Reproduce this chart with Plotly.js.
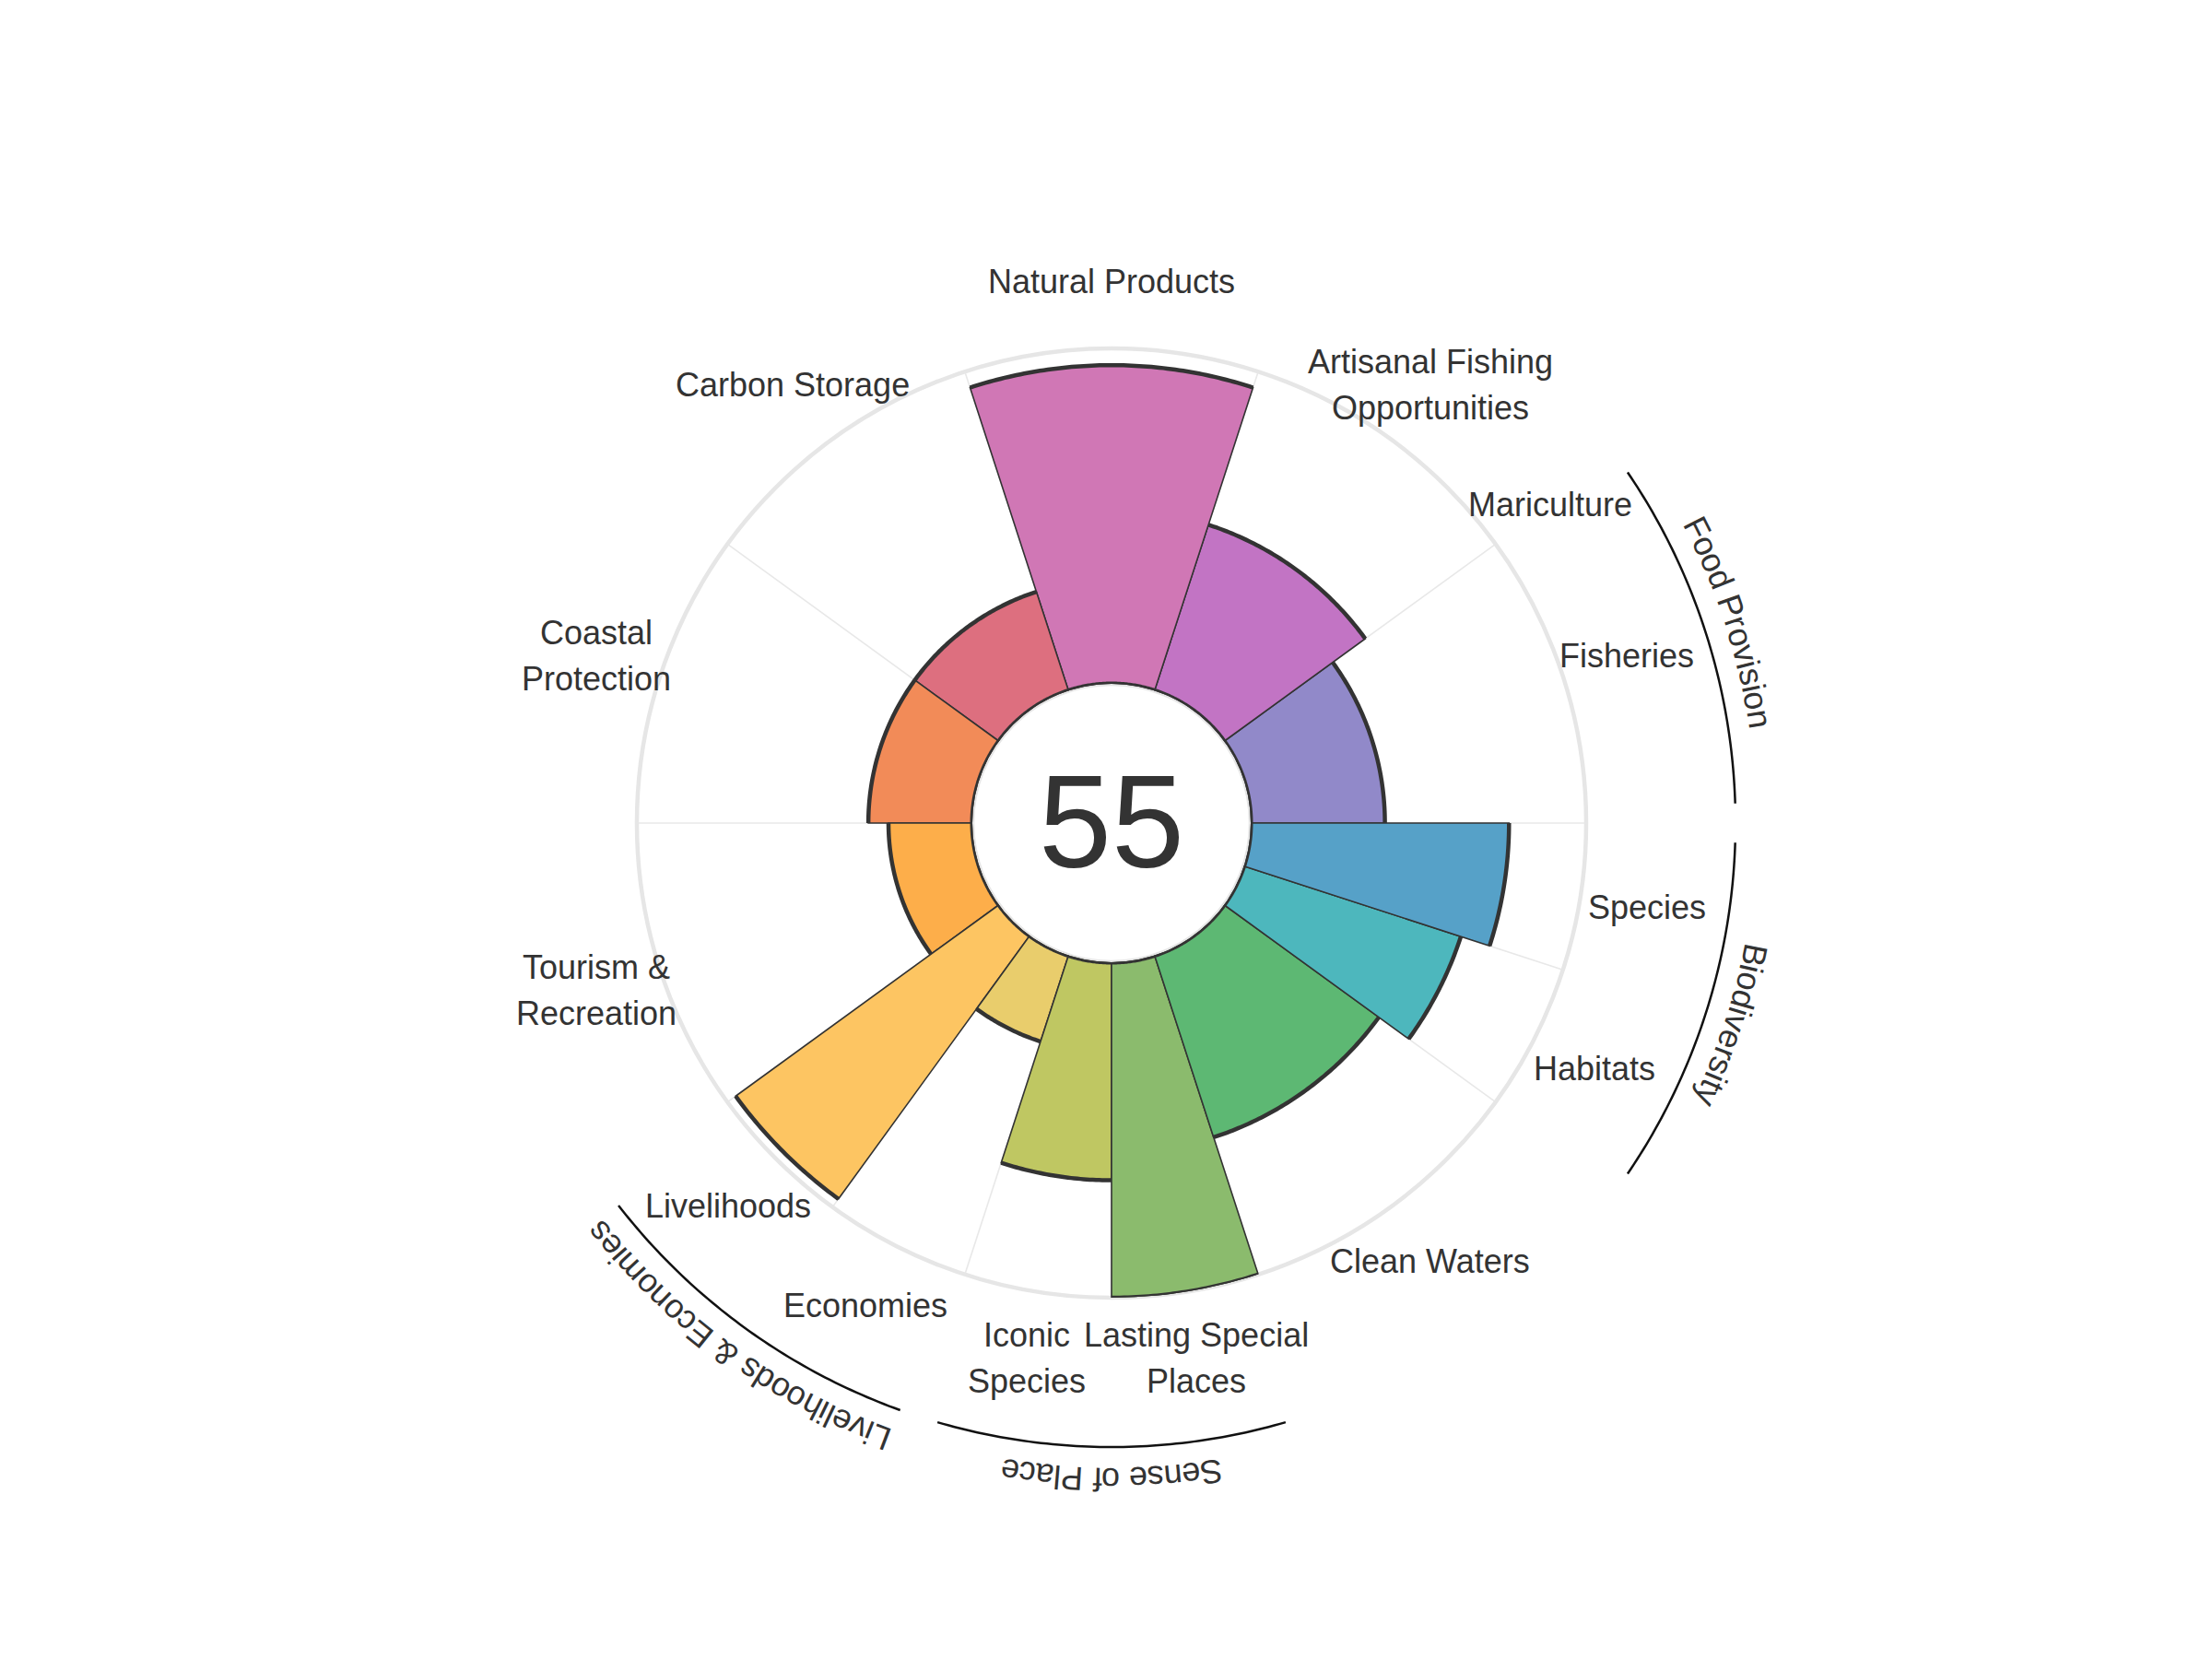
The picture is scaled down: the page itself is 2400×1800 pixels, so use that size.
<!DOCTYPE html>
<html>
<head>
<meta charset="utf-8">
<script src="https://cdn.plot.ly/plotly-3.0.1.min.js"></script>
<style>
html,body{margin:0;padding:0;background:#ffffff;}
#chart{width:2400px;height:1800px;}
</style>
</head>
<body>
<div id="chart"></div>
<script>
// ---------------- DATA ----------------
const goals = ['Fisheries','Mariculture','Artisanal Fishing Opportunities','Natural Products','Carbon Storage','Coastal Protection','Tourism & Recreation','Livelihoods','Economies','Iconic Species','Lasting Special Places','Clean Waters','Habitats','Species'];
const goalLabels = ['Fisheries','Mariculture','Artisanal Fishing<br>Opportunities','Natural Products','Carbon Storage','Coastal<br>Protection','Tourism &amp;<br>Recreation','Livelihoods','Economies','Iconic<br>Species','Lasting Special<br>Places','Clean Waters','Habitats','Species'];
const goalWeights = [36, 0, 36, 36, 36, 36, 36, 18, 18, 18, 18, 36, 18, 18];
const goalScores = [40, null, 52, 95, 31, 31, 25, 97, 27, 65, 100, 57, 68, 77];
const goalColors = ['#9189C9','#A58BC8','#C274C4','#D077B5','#DD6F7F','#F28B58','#FDAE4A','#FDC562','#E9CD6C','#BFC762','#8BBB6D','#5DB873','#4DB7BD','#56A1C8'];
const groupNames = ['Food Provision','Biodiversity','Sense of Place','Livelihoods & Economies'];
const groupFirst = ['Fisheries','Habitats','Iconic Species','Livelihoods'];
const groupLast = ['Mariculture','Species','Lasting Special Places','Economies'];
const overallScore = 55;

// ---------------- GEOMETRY / STYLE ----------------
const W = 2400, H = 1800;
const CX = 1206, CY = 893;      // centre of the flower (px)
const R_OUT = 515;              // outer radius (px)
const HOLE = 0.2932;
const LABEL_R = 588;
const LINE_GAP = 50;
const GROUP_ARC_R = 677;
const GROUP_TEXT_R = 712;
const FONT = 'Liberation Sans, Arial, sans-serif';
const FS = 36;
const TXT = '#333333';

// cumulative angles
const starts = [], centers = [];
let acc = 0;
goalWeights.forEach(w => { starts.push(acc); centers.push(acc + w / 2); acc += w; });
const boundaries = starts.slice();

// petals
const barIdx = goals.map((g, i) => i).filter(i => goalWeights[i] > 0 && goalScores[i] !== null);
const petals = {
  type: 'barpolar',
  r: barIdx.map(i => goalScores[i]),
  theta: barIdx.map(i => centers[i]),
  width: barIdx.map(i => goalWeights[i]),
  marker: { color: barIdx.map(i => goalColors[i]), line: { color: '#333333', width: 1.6 } },
  hoverinfo: 'skip',
  showlegend: false
};

// outer dark arcs of each petal
const arcR = [], arcT = [];
barIdx.forEach(i => {
  const a0 = starts[i], a1 = starts[i] + goalWeights[i];
  const n = Math.max(8, Math.round((a1 - a0) * 2));
  for (let k = 0; k <= n; k++) { arcT.push(a0 + (a1 - a0) * k / n); arcR.push(goalScores[i]); }
  arcT.push(null); arcR.push(null);
});
const petalArcs = {
  type: 'scatterpolar', mode: 'lines', r: arcR, theta: arcT,
  line: { color: '#333333', width: 4.5 }, connectgaps: false, cliponaxis: false,
  hoverinfo: 'skip', showlegend: false
};

// inner circle
const circT = [], circR = [];
for (let k = 0; k <= 720; k++) { circT.push(k / 2); circR.push(0); }
const innerCircle = {
  type: 'scatterpolar', mode: 'lines', r: circR, theta: circT,
  line: { color: '#333333', width: 5 }, cliponaxis: false,
  hoverinfo: 'skip', showlegend: false
};

// helpers: pixel -> paper
const px2x = x => x / W;
const py2y = y => 1 - y / H;
const polarPx = (rad, deg) => {
  const a = deg * Math.PI / 180;
  return [CX + rad * Math.cos(a), CY - rad * Math.sin(a)];
};

const annotations = [];
// goal labels (each line placed separately for the reference line spacing)
goals.forEach((g, i) => {
  const [x, y] = polarPx(LABEL_R, centers[i]);
  const lines = goalLabels[i].split('<br>');
  lines.forEach((ln, k) => {
    const yy = y + (k - (lines.length - 1) / 2) * LINE_GAP;
    annotations.push({
      x: px2x(x), y: py2y(yy), xref: 'paper', yref: 'paper',
      text: ln, showarrow: false, xanchor: 'center', yanchor: 'middle',
      align: 'center', font: { family: FONT, size: FS, color: TXT }
    });
  });
});

// centre score
annotations.push({
  x: px2x(CX), y: py2y(CY - 2), xref: 'paper', yref: 'paper',
  text: String(overallScore), showarrow: false, xanchor: 'center', yanchor: 'middle',
  font: { family: FONT, size: 142, color: TXT }
});

// group arcs and curved labels
const shapes = [];
const ctx = document.createElement('canvas').getContext('2d');
ctx.font = FS + "px 'Liberation Sans', Arial, sans-serif";
groupNames.forEach((name, gi) => {
  const i0 = goals.indexOf(groupFirst[gi]);
  const i1 = goals.indexOf(groupLast[gi]);
  const a0 = starts[i0] + 1.8;
  const a1 = starts[i1] + goalWeights[i1] - 1.8;
  let path = '';
  const n = 60;
  for (let k = 0; k <= n; k++) {
    const [x, y] = polarPx(GROUP_ARC_R, a0 + (a1 - a0) * k / n);
    path += (k === 0 ? 'M ' : ' L ') + px2x(x).toFixed(6) + ',' + py2y(y).toFixed(6);
  }
  shapes.push({ type: 'path', xref: 'paper', yref: 'paper', path: path, line: { color: '#111111', width: 2.5 } });

  // characters along arc, clockwise, tops outward
  const mid = (starts[i0] + starts[i1] + goalWeights[i1]) / 2;
  const chars = Array.from(name);
  const widths = chars.map(c => ctx.measureText(c).width);
  const total = widths.reduce((s, w) => s + w, 0);
  const spanDeg = total / GROUP_TEXT_R * 180 / Math.PI;
  let s = 0;
  chars.forEach((c, k) => {
    const off = s + widths[k] / 2;
    s += widths[k];
    if (c === ' ') return;
    const th = mid + spanDeg / 2 - off / GROUP_TEXT_R * 180 / Math.PI;
    const [x, y] = polarPx(GROUP_TEXT_R, th);
    annotations.push({
      x: px2x(x), y: py2y(y), xref: 'paper', yref: 'paper',
      text: c === '&' ? '&amp;' : c, showarrow: false, xanchor: 'center', yanchor: 'middle',
      textangle: 90 - th,
      font: { family: FONT, size: FS, color: TXT }
    });
  });
});

const layout = {
  width: W, height: H,
  margin: { l: 0, r: 0, t: 0, b: 0 },
  paper_bgcolor: '#ffffff',
  font: { family: FONT, color: TXT },
  showlegend: false,
  polar: {
    domain: { x: [(CX - R_OUT) / W, (CX + R_OUT) / W], y: [(H - CY - R_OUT) / H, (H - CY + R_OUT) / H] },
    hole: HOLE,
    bgcolor: 'rgba(0,0,0,0)',
    bargap: 0,
    radialaxis: { range: [0, 100], showgrid: false, showline: false, showticklabels: false, ticks: '' },
    angularaxis: {
      rotation: 0, direction: 'counterclockwise', thetaunit: 'degrees',
      tickmode: 'array', tickvals: boundaries, showticklabels: false, ticks: '',
      showgrid: true, gridcolor: '#e8e8e8', gridwidth: 1.6,
      showline: true, linecolor: '#e6e6e6', linewidth: 4.5, layer: 'below traces'
    }
  },
  shapes: shapes,
  annotations: annotations
};

Plotly.newPlot('chart', [petals, petalArcs, innerCircle], layout, { staticPlot: true, displayModeBar: false });
</script>
</body>
</html>
